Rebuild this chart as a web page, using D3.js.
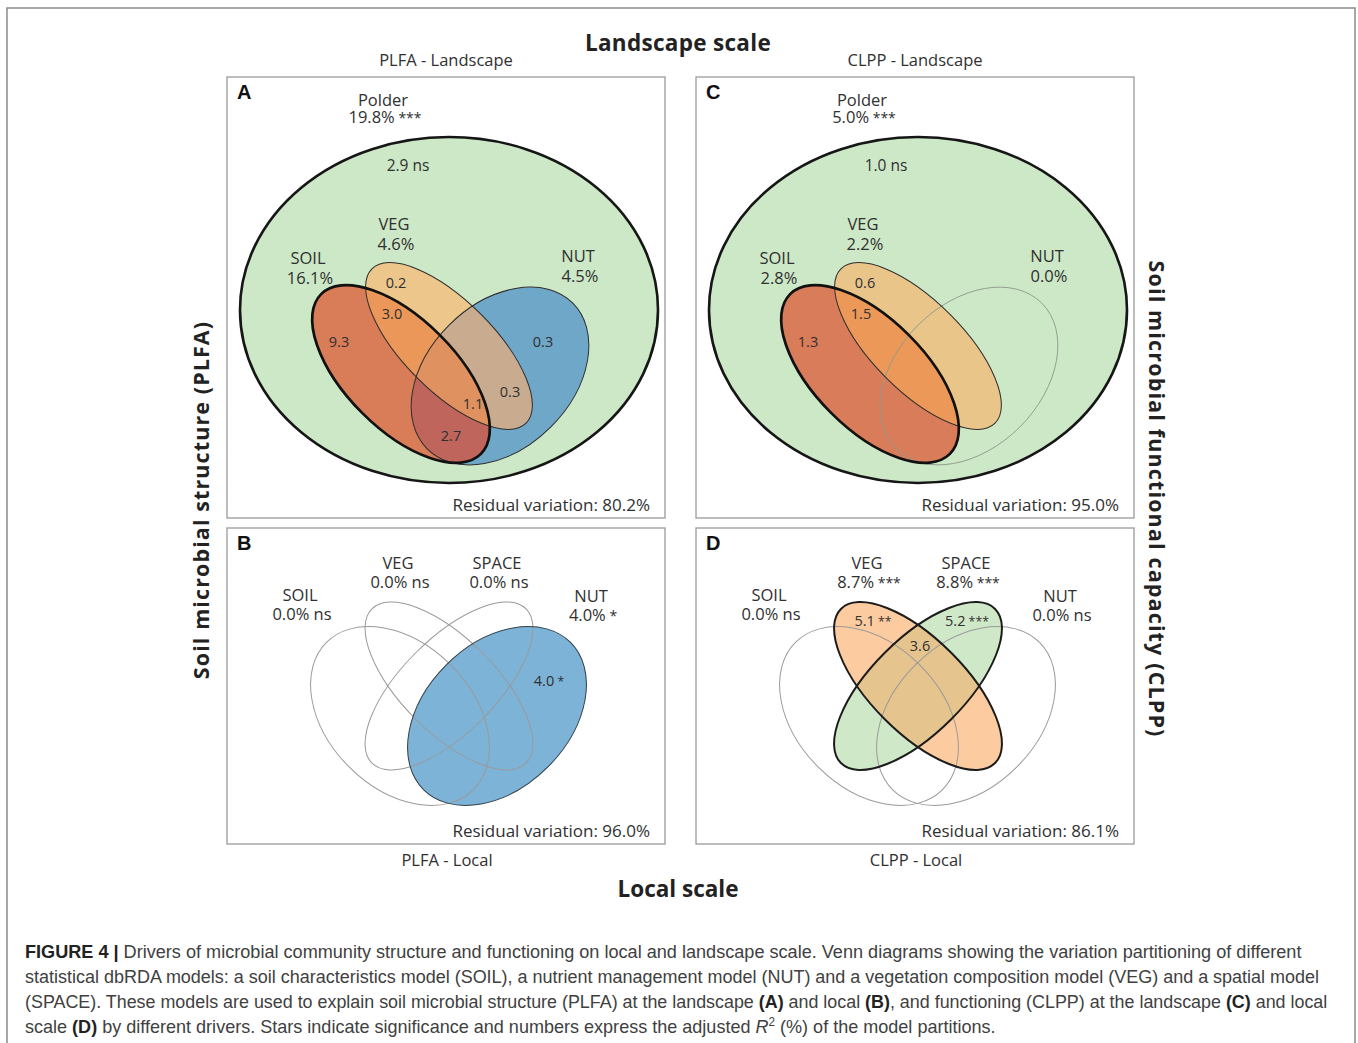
<!DOCTYPE html>
<html>
<head>
<meta charset="utf-8">
<script src="https://cdn.jsdelivr.net/npm/d3@7"></script>
<style>
  body { margin: 0; background: #fff; }
</style>
</head>
<body>
<svg id="fig"></svg>
<script>
// ---- values ----
const landSets = ["SOIL", "VEG", "NUT"];
const localSets = ["SOIL", "VEG", "SPACE", "NUT"];

// landscape scale: Polder block (A, C)
const polderTotal = [19.8, 5.0];
const polderSig = ["***", "***"];
const polderOnly = [2.9, 1.0];
const polderOnlySig = ["ns", "ns"];

// landscape totals per set (SOIL, VEG, NUT)
const plfaLandTotals = [16.1, 4.6, 4.5];
const clppLandTotals = [2.8, 2.2, 0.0];

// landscape partitions
const landParts = ["S", "V", "SV", "N", "VN", "SVN", "SN"];
const plfaLandParts = [9.3, 0.2, 3.0, 0.3, 0.3, 1.1, 2.7];
const clppLandParts = [1.3, 0.6, 1.5, null, null, null, null];

// local scale totals per set (SOIL, VEG, SPACE, NUT)
const plfaLocalTotals = [0.0, 0.0, 0.0, 4.0];
const plfaLocalSig = ["ns", "ns", "ns", "*"];
const clppLocalTotals = [0.0, 8.7, 8.8, 0.0];
const clppLocalSig = ["ns", "***", "***", "ns"];

// local partitions
const localParts = ["N", "V", "P", "VP"];
const plfaLocalParts = [4.0, null, null, null];
const plfaLocalPartSig = ["*", "", "", ""];
const clppLocalParts = [null, 5.1, 5.2, 3.6];
const clppLocalPartSig = ["", "**", "***", ""];

// residual variation A, B, C, D
const residual = [80.2, 96.0, 95.0, 86.1];

const panelTitles = ["PLFA - Landscape", "PLFA - Local", "CLPP - Landscape", "CLPP - Local"];

// ---- geometry (panel-local units) ----
const landShapes = {
  polder: { cx: 222, cy: 233, a: 209, b: 173, rot: 0 },
  SOIL: { cx: 174, cy: 297, a: 113, b: 55, rot: 45 },
  VEG: { cx: 222, cy: 269, a: 109, b: 45, rot: 45 },
  NUT: { cx: 273, cy: 299, a: 103, b: 72, rot: -45 }
};
const localShapes = {
  SOIL: { cx: 173, cy: 188, a: 104, b: 72, rot: 45 },
  VEG: { cx: 222, cy: 158, a: 109, b: 47, rot: 45 },
  SPACE: { cx: 222, cy: 158, a: 109, b: 47, rot: -45 },
  NUT: { cx: 270, cy: 188, a: 104, b: 72, rot: -45 }
};

const landSetLabelPos = [[81, 181], [167, 147], [351, 179]];
const landPartPos = {
  S: [112, 265], V: [169, 206], SV: [165, 237], N: [316, 265],
  VN: [283, 315], SVN: [246, 327], SN: [224, 359]
};
const localSetLabelPos = [[73, 67], [171, 35], [270, 35], [364, 68]];
const localPartPos = { N: [322, 153], V: [177, 93], P: [271, 93], VP: [224, 118] };

// caption line widths in the figure (px)
const captionWidths = [1277, 1295, 1303, 971];

const ink = "#303030";
const svg = d3.select("#fig").attr("width", 1358).attr("height", 1043)
  .attr("font-family", "Open Sans, Noto Sans, sans-serif");
const defs = svg.append("defs");

// outer frame
svg.append("rect").attr("x", 7).attr("y", 8).attr("width", 1348).attr("height", 1060)
  .attr("fill", "none").attr("stroke", "#8a8a8a").attr("stroke-width", 1.5);

const panels = [
  { id: "A", x0: 227, y0: 77, h: 441, shapes: landShapes },
  { id: "B", x0: 227, y0: 528, h: 316, shapes: localShapes },
  { id: "C", x0: 696, y0: 77, h: 441, shapes: landShapes },
  { id: "D", x0: 696, y0: 528, h: 316, shapes: localShapes }
];
panels.forEach(p => {
  p.x = d3.scaleLinear().domain([0, 438]).range([p.x0, p.x0 + 438]);
  p.y = d3.scaleLinear().domain([0, p.h]).range([p.y0, p.y0 + p.h]);
  p.g = svg.append("g");
});

function ellipse(sel, p, s) {
  return sel.append("ellipse")
    .attr("rx", p.x(s.a) - p.x(0))
    .attr("ry", p.y(s.b) - p.y(0))
    .attr("transform", `translate(${p.x(s.cx)},${p.y(s.cy)}) rotate(${s.rot})`);
}

function clipFor(p, key) {
  const id = `clip-${p.id}-${key}`;
  if (defs.select("#" + id).empty()) {
    ellipse(defs.append("clipPath").attr("id", id), p, p.shapes[key]);
  }
  return `url(#${id})`;
}

// draw a region: last key is the filled shape, others clip it
function region(p, keys, color) {
  let g = p.g;
  keys.slice(0, -1).forEach(k => { g = g.append("g").attr("clip-path", clipFor(p, k)); });
  ellipse(g, p, p.shapes[keys[keys.length - 1]]).attr("fill", color);
}

function outline(p, key, color, w) {
  ellipse(p.g, p, p.shapes[key]).attr("fill", "none").attr("stroke", color).attr("stroke-width", w);
}

function label(p, lx, ly, txt, stars, size) {
  const t = p.g.append("text")
    .attr("x", p.x(lx)).attr("y", p.y(ly)).attr("dy", "0.36em")
    .attr("text-anchor", "middle").attr("fill", ink)
    .attr("font-size", size).text(txt);
  if (stars) {
    t.append("tspan").attr("font-size", stars === "ns" ? size : size * 0.85)
      .text(" " + stars);
  }
  return t;
}

const fmt = d3.format(".1f");

// ---- panel A ----
{
  const p = panels[0];
  region(p, ["polder"], "#cde8c7");
  region(p, ["SOIL"], "#d97c58");
  region(p, ["VEG"], "#ecc68b");
  region(p, ["NUT"], "#6ea7c8");
  region(p, ["SOIL", "VEG"], "#eb9759");
  region(p, ["VEG", "NUT"], "#c9ab8f");
  region(p, ["SOIL", "NUT"], "#bf655c");
  region(p, ["VEG", "SOIL", "NUT"], "#df915f");
  outline(p, "polder", "#161616", 2.6);
  outline(p, "NUT", "#2e2e2e", 1);
  outline(p, "VEG", "#2e2e2e", 1);
  outline(p, "SOIL", "#111", 2.7);
}
// ---- panel C ----
{
  const p = panels[2];
  region(p, ["polder"], "#cde8c7");
  region(p, ["SOIL"], "#d97c5a");
  region(p, ["VEG"], "#e9c58a");
  region(p, ["SOIL", "VEG"], "#eb9858");
  outline(p, "polder", "#161616", 2.6);
  outline(p, "NUT", "#8f9a8c", 0.9);
  outline(p, "VEG", "#2e2e2e", 1);
  outline(p, "SOIL", "#111", 2.7);
}
// ---- panel B ----
{
  const p = panels[1];
  region(p, ["NUT"], "#7db3d7");
  outline(p, "SOIL", "#9a9a9a", 1);
  outline(p, "VEG", "#9a9a9a", 1);
  outline(p, "SPACE", "#9a9a9a", 1);
  outline(p, "NUT", "#2f3f4a", 1);
}
// ---- panel D ----
{
  const p = panels[3];
  region(p, ["VEG"], "#fdcba0");
  region(p, ["SPACE"], "#cfe8c8");
  region(p, ["VEG", "SPACE"], "#e6c48d");
  outline(p, "SOIL", "#9a9a9a", 1);
  outline(p, "NUT", "#9a9a9a", 1);
  outline(p, "VEG", "#1c1c1c", 2);
  outline(p, "SPACE", "#1c1c1c", 2);
}

// ---- texts inside panels ----
const landData = [
  { p: panels[0], k: 0, totals: plfaLandTotals, parts: plfaLandParts, polderX: 156, nsX: 181 },
  { p: panels[2], k: 1, totals: clppLandTotals, parts: clppLandParts, polderX: 166, nsX: 190 }
];
landData.forEach(d => {
  const p = d.p;
  label(p, d.polderX, 23, "Polder", null, 16.5);
  label(p, d.polderX + 2, 40, fmt(polderTotal[d.k]) + "%", polderSig[d.k], 16.5);
  label(p, d.nsX, 88, fmt(polderOnly[d.k]), polderOnlySig[d.k], 15.5);
  landSets.forEach((s, i) => {
    const [lx, ly] = landSetLabelPos[i];
    label(p, lx, ly, s, null, 16.5);
    label(p, lx + 2, ly + 20, fmt(d.totals[i]) + "%", null, 16.5);
  });
  landParts.forEach((k, i) => {
    if (d.parts[i] == null) return;
    const [lx, ly] = landPartPos[k];
    label(p, lx, ly, fmt(d.parts[i]), null, 14.5);
  });
});

const localData = [
  { p: panels[1], totals: plfaLocalTotals, sig: plfaLocalSig, parts: plfaLocalParts, psig: plfaLocalPartSig },
  { p: panels[3], totals: clppLocalTotals, sig: clppLocalSig, parts: clppLocalParts, psig: clppLocalPartSig }
];
localData.forEach(d => {
  const p = d.p;
  localSets.forEach((s, i) => {
    const [lx, ly] = localSetLabelPos[i];
    label(p, lx, ly, s, null, 16.5);
    label(p, lx + 2, ly + 19.5, fmt(d.totals[i]) + "%", d.sig[i], 16.5);
  });
  localParts.forEach((k, i) => {
    if (d.parts[i] == null) return;
    const [lx, ly] = localPartPos[k];
    label(p, lx, ly, fmt(d.parts[i]), d.psig[i], 14.5);
  });
});

// panel frames, letters, residuals, titles
panels.forEach((p, i) => {
  svg.append("rect").attr("x", p.x(0)).attr("y", p.y(0))
    .attr("width", p.x(438) - p.x(0)).attr("height", p.y(p.h) - p.y(0))
    .attr("fill", "none").attr("stroke", "#9a9a9a").attr("stroke-width", 1.3);
  svg.append("text").attr("x", p.x(10)).attr("y", p.y(22))
    .attr("font-family", "Liberation Sans, Arial, sans-serif")
    .attr("font-weight", "bold").attr("font-size", 20).attr("fill", "#111").text(p.id);
  svg.append("text").attr("x", p.x(423)).attr("y", p.y(p.h - 13)).attr("dy", "0.36em")
    .attr("text-anchor", "end").attr("font-size", 17).attr("fill", ink)
    .text("Residual variation: " + fmt(residual[i]) + "%");
  const top = p.id === "A" || p.id === "C";
  svg.append("text").attr("x", p.x(top ? 219 : 220)).attr("y", top ? p.y(0) - 17 : p.y(p.h) + 16)
    .attr("dy", "0.36em").attr("text-anchor", "middle").attr("font-size", 16.5).attr("fill", ink)
    .text(panelTitles[i]);
});

svg.append("text").attr("x", 678).attr("y", 43).attr("dy", "0.36em").attr("text-anchor", "middle")
  .attr("font-weight", "bold").attr("font-size", 22.5).attr("letter-spacing", 0.3).attr("fill", "#222")
  .text("Landscape scale");
svg.append("text").attr("x", 678).attr("y", 889).attr("dy", "0.36em").attr("text-anchor", "middle")
  .attr("font-weight", "bold").attr("font-size", 22.5).attr("fill", "#222").text("Local scale");
svg.append("text").attr("transform", "translate(201,500) rotate(-90)").attr("dy", "0.36em")
  .attr("text-anchor", "middle").attr("font-weight", "bold").attr("font-size", 21.5)
  .attr("letter-spacing", 1.1).attr("fill", "#222")
  .text("Soil microbial structure (PLFA)");
svg.append("text").attr("transform", "translate(1157,499) rotate(90)").attr("dy", "0.36em")
  .attr("text-anchor", "middle").attr("font-weight", "bold").attr("font-size", 21.5)
  .attr("letter-spacing", 1.15).attr("fill", "#222")
  .text("Soil microbial functional capacity (CLPP)");

// ---- caption ----
const captionLines = [
  [["FIGURE 4 | ", "b"], ["Drivers of microbial community structure and functioning on local and landscape scale. Venn diagrams showing the variation partitioning of different"]],
  [["statistical dbRDA models: a soil characteristics model (SOIL), a nutrient management model (NUT) and a vegetation composition model (VEG) and a spatial model"]],
  [["(SPACE). These models are used to explain soil microbial structure (PLFA) at the landscape "], ["(A)", "b"], [" and local "], ["(B)", "b"], [", and functioning (CLPP) at the landscape "], ["(C)", "b"], [" and local"]],
  [["scale "], ["(D)", "b"], [" by different drivers. Stars indicate significance and numbers express the adjusted "], ["R", "i"], ["2", "sup"], [" (%) of the model partitions."]]
];
const cap = svg.append("g");
captionLines.forEach((line, i) => {
  const t = cap.append("text").attr("x", 0).attr("y", 0)
    .attr("font-family", "Liberation Sans, Arial, sans-serif")
    .attr("font-size", 18.5).attr("fill", "#404040").attr("xml:space", "preserve");
  line.forEach(([s, st]) => {
    const ts = t.append("tspan").text(s);
    if (st === "b") ts.attr("font-weight", "bold").attr("fill", "#222");
    if (st === "i") ts.attr("font-style", "italic");
    if (st === "sup") ts.attr("font-size", 12).attr("dy", -7);
    if (i === 3 && s.startsWith(" (%)")) ts.attr("dy", 7);
  });
  // condense each line to the width it has in the figure
  const k = captionWidths[i] / t.node().getComputedTextLength();
  t.attr("transform", `translate(25,${958 + i * 25}) scale(${k},1)`);
});
</script>
</body>
</html>
